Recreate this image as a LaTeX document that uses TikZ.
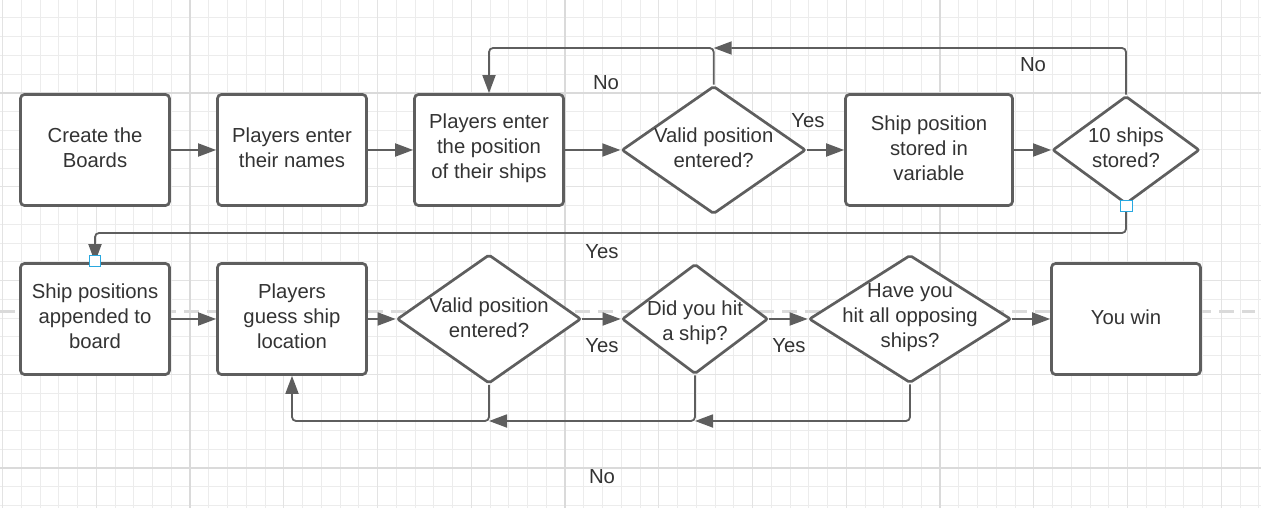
\documentclass[tikz,border=0pt]{standalone}
\usepackage{fontspec}
\setmainfont{Liberation Sans}
\usetikzlibrary{shapes.geometric,arrows.meta}
\definecolor{edgec}{HTML}{5E5E5E}
\definecolor{txtc}{HTML}{333333}
\definecolor{gminor}{HTML}{ECECEC}
\definecolor{gmed}{HTML}{E3E3E3}
\definecolor{gmajor}{HTML}{DADADA}
\definecolor{handlec}{HTML}{29A8E0}
\newcommand{\bodyfont}{\fontsize{20.3}{25}\selectfont}
\begin{document}
\begin{tikzpicture}[x=1pt,y=-1pt,
  procbox/.style={draw=edgec, line width=2.7pt, fill=white, rounded corners=4pt,
    minimum width=149pt, minimum height=111pt, inner sep=0pt, align=center,
    text=txtc, font=\bodyfont},
  decision/.style={diamond, draw=edgec, line width=2.7pt, fill=white,
    inner sep=0pt, rounded corners=2pt},
  dtext/.style={align=center, text=txtc, font=\bodyfont, inner sep=0pt},
  btext/.style={align=center, text=txtc, font=\bodyfont, inner sep=0pt},
  lbl/.style={text=txtc, font=\bodyfont, inner sep=0pt},
  conn/.style={draw=edgec, line width=1.8pt, rounded corners=4pt,
    -{Triangle[length=18pt,width=13pt]}},
  handlebox/.style={draw=handlec, fill=white, line width=1.2pt,
    minimum size=11.5pt, inner sep=0pt},
  gridminor/.style={draw=gminor, line width=1pt},
  gridmed/.style={draw=gmed, line width=1.2pt},
  gridmajor/.style={draw=gmajor, line width=1.6pt},
  pagebreak/.style={draw=gmajor, line width=3pt, dash pattern=on 15pt off 8pt}
]
\useasboundingbox (0,0) rectangle (1261,508);
\fill[white] (0,0) rectangle (1261,508);
\begin{scope}
\clip (0,0) rectangle (1261,508);
% grid
\foreach \i in {0,...,67} \draw[gridminor] ({2.5+18.75*\i},0) -- ({2.5+18.75*\i},508);
\foreach \i in {0,...,27} \draw[gridminor] (0,{-0.75+18.75*\i}) -- (1261,{-0.75+18.75*\i});
\foreach \i in {0,...,13} \draw[gridmed] ({2.5+93.75*\i},0) -- ({2.5+93.75*\i},508);
\foreach \i in {0,...,5} \draw[gridmed] (0,{-0.75+93.75*\i}) -- (1261,{-0.75+93.75*\i});
\foreach \xx in {190,565,940} \draw[gridmajor] (\xx,0) -- (\xx,508);
\foreach \yy in {93,468} \draw[gridmajor] (0,\yy) -- (1261,\yy);
\draw[pagebreak] (0,311) -- (1255,311);
\end{scope}

% row 1
\node[procbox] (b1) at (95,150) {};
\node[btext] (b1t) at (95,148) {Create the\\Boards};
\node[procbox] (b2) at (292,150) {};
\node[btext] (b2t) at (292,148) {Players enter\\their names};
\node[procbox] (b3) at (489,150) {};
\node[btext] (b3t) at (489,148) {Players enter\\the position\\of their ships};
\node[decision, minimum width=184pt, minimum height=128pt] (d1) at (713.7,150) {};
\node[dtext] (d1t) at (713.7,148) {Valid position\\entered?};
\node[procbox, minimum width=167pt] (b4) at (929,150) {};
\node[btext] (b4t) at (929,148) {Ship position\\stored in\\variable};
\node[decision, minimum width=147pt, minimum height=108pt] (d2) at (1126,150) {};
\node[dtext] (d2t) at (1126,148) {10 ships\\stored?};

% row 2
\node[procbox] (b5) at (95,319) {};
\node[btext] (b5t) at (95,316) {Ship positions\\appended to\\board};
\node[procbox] (b6) at (292,319) {};
\node[btext] (b6t) at (292,316) {Players\\guess ship\\location};
\node[decision, minimum width=184pt, minimum height=129pt] (d3) at (489,319) {};
\node[dtext] (d3t) at (489,318) {Valid position\\entered?};
\node[decision, minimum width=146pt, minimum height=110pt] (d4) at (695,319) {};
\node[dtext] (d4t) at (695,323) {Did you hit\\a ship?};
\node[decision, minimum width=202pt, minimum height=128pt] (d5) at (910,319) {};
\node[dtext] (d5t) at (910,318) {Have you\\hit all opposing\\ships?};
\node[procbox] (b7) at (1126,319) {};
\node[btext] (b7t) at (1126,317) {You win};

% helper coordinates
\coordinate (top) at (0,48);
\coordinate (mid) at (0,233);
\coordinate (bot) at (0,421);

% row 1 connectors
\draw[conn] (b1) -- (b2);
\draw[conn] (b2) -- (b3);
\draw[conn] (b3) -- (d1);
\draw[conn] (d1) -- (b4);
\draw[conn] (b4) -- (d2);
\draw[conn] (d1.north) -- (d1.north |- top) -| (b3.north);
\draw[conn] (d2.north) -- (d2.north |- top) -- (d1.north |- top);
\draw[conn] (d2.south) -- (d2.south |- mid) -| (b5.north);

% row 2 connectors
\draw[conn] (b5) -- (b6);
\draw[conn] (b6) -- (d3);
\draw[conn] (d3) -- (d4);
\draw[conn] (d4) -- (d5);
\draw[conn] (d5) -- (b7);
\draw[conn] (d3.south) -- (d3.south |- bot) -| (b6.south);
\draw[conn] (d4.south) -- (d4.south |- bot) -- (d3.south |- bot);
\draw[conn] (d5.south) -- (d5.south |- bot) -- (d4.south |- bot);

% selection handles
\node[handlebox] (h1) at (1126.5,206) {};
\node[handlebox] (h2) at (95,261) {};

% labels
\node[lbl] (l1) at (606,83) {No};
\node[lbl] (l2) at (808,121) {Yes};
\node[lbl] (l3) at (1033,65) {No};
\node[lbl] (l4) at (602,252) {Yes};
\node[lbl] (l5) at (602,346) {Yes};
\node[lbl] (l6) at (789,346) {Yes};
\node[lbl] (l7) at (602,477) {No};
\end{tikzpicture}
\end{document}
